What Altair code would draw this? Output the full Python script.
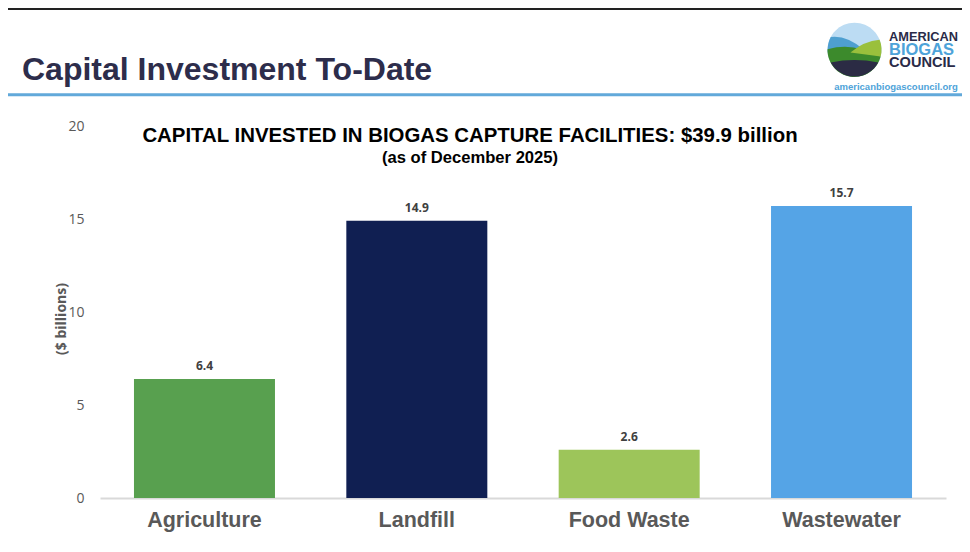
import altair as alt
import pandas as pd

# ---- data ----
categories = ["Agriculture", "Landfill", "Food Waste", "Wastewater"]
values = [6.4, 14.9, 2.6, 15.7]
colors = ["#58a04f", "#101f52", "#9dc55a", "#55a4e6"]
y_ticks = [0, 5, 10, 15, 20]

header_title = "Capital Investment To-Date"
chart_title = "CAPITAL INVESTED IN BIOGAS CAPTURE FACILITIES: $39.9 billion"
chart_subtitle = "(as of December 2025)"
y_title = "($ billions)"
logo_lines = ["AMERICAN", "BIOGAS", "COUNCIL"]
logo_url = "americanbiogascouncil.org"

df = pd.DataFrame({
    "category": categories,
    "value": values,
    "label": [f"{v:.1f}" for v in values],
})

W, H = 846, 372
one = alt.Data(values=[{"k": 1}])

x_enc = alt.X(
    "category:N", sort=categories, title=None,
    scale=alt.Scale(paddingInner=0.336, paddingOuter=0.16),
    axis=alt.Axis(labelAngle=0, labelFont="Liberation Sans", labelFontWeight="bold",
                  labelFontSize=21.5, labelColor="#595959", labelPadding=11,
                  ticks=False, domainColor="#d9d9d9", domainWidth=2),
)
y_enc = alt.Y(
    "value:Q", title=None, scale=alt.Scale(domain=[0, 20]),
    axis=alt.Axis(values=y_ticks, grid=False, domain=False, ticks=False,
                  labelFont="Open Sans", labelFontSize=14, labelColor="#595959",
                  labelPadding=16),
)

bars = alt.Chart(df).mark_bar().encode(
    x=x_enc, y=y_enc,
    color=alt.Color("category:N", scale=alt.Scale(domain=categories, range=colors), legend=None),
)
bar_labels = alt.Chart(df).mark_text(
    baseline="bottom", dy=-6, font="Open Sans", fontWeight="bold", fontSize=12, color="#404040"
).encode(x=alt.X("category:N", sort=categories), y="value:Q", text="label:N")


def txt(text, x, y, size, color, font="Liberation Sans", weight="bold",
        align="left", baseline="alphabetic", angle=0):
    return alt.Chart(one).mark_text(
        text=text, font=font, fontSize=size, fontWeight=weight, color=color,
        align=align, baseline=baseline, angle=angle,
    ).encode(x=alt.value(x), y=alt.value(y))


def rule(x1, x2, y, color, width):
    return alt.Chart(one).mark_rule(color=color, strokeWidth=width).encode(
        x=alt.value(x1), x2=alt.value(x2), y=alt.value(y))


def shape(path, color, cx, cy, size):
    return alt.Chart(one).mark_point(
        shape=path, filled=True, color=color, opacity=1, strokeWidth=0, size=size
    ).encode(x=alt.value(cx), y=alt.value(cy))


# logo circle pieces (unit-circle paths)
sky = "M -1 0 A 1 1 0 1 1 1 0 A 1 1 0 1 1 -1 0 Z"
blue = "M -0.88 -0.47 Q -0.3 -0.55 0.35 0.0 L -0.99 0.1 A 1 1 0 0 1 -0.88 -0.47 Z"
dgreen = "M -1 -0.02 Q -0.3 -0.2 0.3 0.0 L 0.97 0.25 A 1 1 0 0 1 -1 -0.02 Z"
lgreen = "M -0.15 0.1 Q 0.35 -0.32 0.93 -0.37 A 1 1 0 0 1 0.97 0.25 Z"
navy = "M -0.88 0.47 Q 0 0.3 0.88 0.47 A 1 1 0 0 1 -0.88 0.47 Z"

LCX, LCY, LS = 754.5, -76.3, 2916

layers = [
    bars,
    bar_labels,
    rule(-92, 880, -117.5, "#222222", 3),
    rule(-92, 880, -31.3, "#62a9da", 3),
    txt(header_title, -78, -46.5, 32, "#2d2d4b"),
    shape(sky, "#bcdcf3", LCX, LCY, LS),
    shape(blue, "#4e9fd0", LCX, LCY, LS),
    shape(dgreen, "#3c8a2c", LCX, LCY, LS),
    shape(lgreen, "#9ac03c", LCX, LCY, LS),
    shape(navy, "#2b2b44", LCX, LCY, LS),
    txt(logo_lines[0], 789, -85.3, 12.8, "#2a2b48"),
    txt(logo_lines[1], 789, -71.3, 16.5, "#4ea3d9"),
    txt(logo_lines[2], 789, -58.7, 14.6, "#2a2b48"),
    txt(logo_url, 796, -36.5, 9.5, "#4ea3d9", align="center"),
    txt(chart_title, 370, 16, 20.4, "#000000", align="center"),
    txt(chart_subtitle, 370, 37, 16.6, "#000000", align="center"),
    txt(y_title, -38, 193, 14, "#595959", font="Open Sans", align="center",
        baseline="middle", angle=270),
]

chart = alt.layer(*layers).properties(
    width=W, height=H,
    autosize=alt.AutoSizeParams(type="none"),
    padding={"left": 92, "top": 118, "right": 16, "bottom": 34},
).configure_view(stroke=None)

chart.save("out.html", embed_options={"renderer": "svg", "actions": False})
